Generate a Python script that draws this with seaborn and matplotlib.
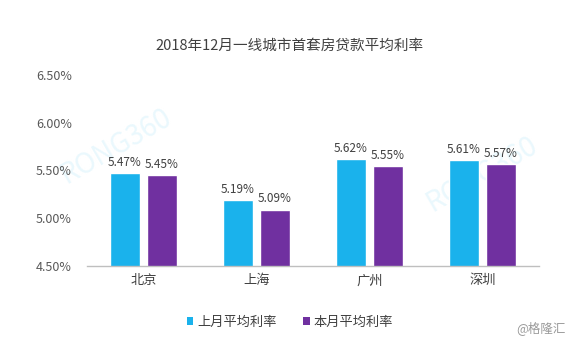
import matplotlib
matplotlib.use("Agg")
import matplotlib.pyplot as plt
import seaborn as sns
import pandas as pd
from matplotlib.ticker import FuncFormatter
from matplotlib.patches import Patch

cities = ["北京", "上海", "广州", "深圳"]
last_month = [5.47, 5.19, 5.62, 5.61]
this_month = [5.45, 5.09, 5.55, 5.57]
series_names = ["上月平均利率", "本月平均利率"]
colors = ["#1AB2EC", "#7030A0"]
title = "2018年12月一线城市首套房贷款平均利率"
y_ticks = [4.5, 5.0, 5.5, 6.0, 6.5]

df = pd.DataFrame({
    "city": cities * 2,
    "rate": last_month + this_month,
    "series": [series_names[0]] * len(cities) + [series_names[1]] * len(cities),
})

sns.set_theme(style="white")
plt.rcParams["font.family"] = ["Noto Sans CJK SC", "DejaVu Sans"]

fig = plt.figure(figsize=(5.8, 3.49), dpi=100)
ax = fig.add_axes([0.15, 0.238, 0.779, 0.547])
ax.set_facecolor("none")

sns.barplot(data=df, x="city", y="rate", hue="series", palette=colors,
            width=0.655, gap=0.19, ax=ax, legend=False, saturation=1)

ax.set_ylim(4.5, 6.5)
ax.set_yticks(y_ticks)
ax.yaxis.set_major_formatter(FuncFormatter(lambda v, p: f"{v:.2f}%"))
ax.set_xlabel("")
ax.set_ylabel("")
for s in ["top", "right", "left"]:
    ax.spines[s].set_visible(False)
ax.spines["bottom"].set_color("#BFBFBF")
ax.spines["bottom"].set_linewidth(1)
ax.tick_params(axis="y", length=0, labelsize=9, labelcolor="#595959", pad=11)
ax.tick_params(axis="x", length=0, labelsize=9.5, labelcolor="#404040", pad=6)

for cont in ax.containers:
    ax.bar_label(cont, labels=[f"{v:.2f}%" for v in cont.datavalues],
                 fontsize=8.5, color="#404040", padding=3)

fig.text(0.5, 0.87, title, ha="center", va="center", fontsize=10.5, color="#404040")

handles = [Patch(facecolor=c, edgecolor="none") for c in colors]
fig.legend(handles, series_names, loc="center", bbox_to_anchor=(0.5, 0.077),
           ncol=2, frameon=False, fontsize=9.5, handlelength=0.5, handleheight=0.5,
           handletextpad=0.3, columnspacing=2.0, labelcolor="#404040")

# faint watermarks behind the bars
for xw, yw in [(0.2, 0.58), (0.83, 0.5)]:
    fig.text(xw, yw, "RONG360", fontsize=20, color="#EAF8FD", rotation=30,
             ha="center", va="center", zorder=-1)

fig.text(0.975, 0.06, "@格隆汇", ha="right", va="center", fontsize=9, color="#9A9A9A")

fig.savefig("out.png", dpi=100, facecolor="white")
